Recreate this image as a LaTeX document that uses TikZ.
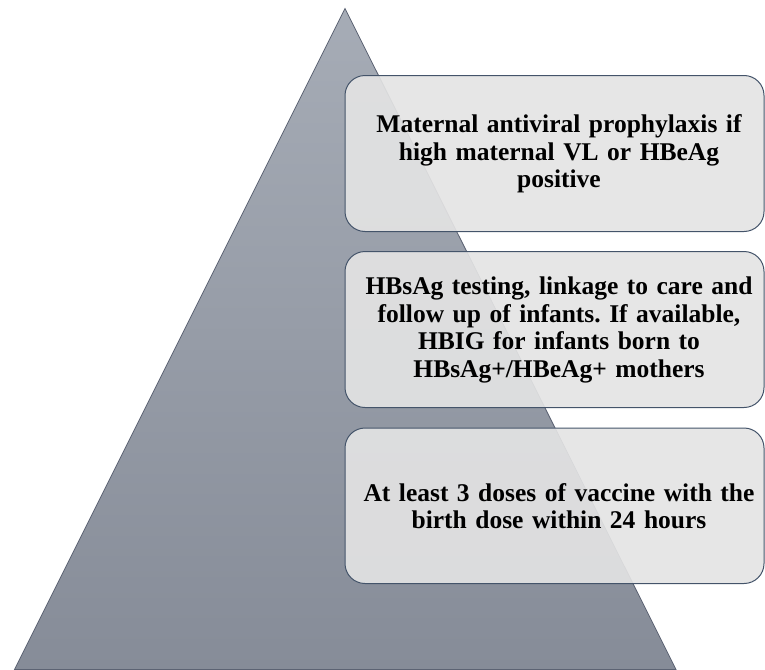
\documentclass[tikz,border=0pt]{standalone}
\usepackage{fontspec}
\setmainfont{Liberation Serif}
\frenchspacing
\begin{document}
\begin{tikzpicture}[x=1pt,y=-1pt,
  tri/.style={draw=triEdge, line width=0.8pt, top color=triTop, bottom color=triBot},
  tier/.style={draw=boxEdge, line width=1pt, fill=boxFill, fill opacity=0.91, rounded corners=20pt},
  tiertext/.style={align=center, font=\fontsize{25.5}{27.5}\selectfont\bfseries, text width=410pt, inner sep=0pt}]
\definecolor{triTop}{HTML}{A6ACB6}
\definecolor{triBot}{HTML}{868C98}
\definecolor{triEdge}{HTML}{5C6373}
\definecolor{boxEdge}{HTML}{44546A}
\definecolor{boxFill}{HTML}{E4E4E4}
\useasboundingbox (0,0) rectangle (765,669);
\coordinate (apex) at (345,8.5);
\coordinate (bl) at (14.5,669.5);
\coordinate (br) at (676,669.5);
\path[tri] (apex) -- (br) -- (bl) -- cycle;
\path[tier] (345,75.5) rectangle (764,231.5);
\path[tier] (345,251.5) rectangle (764,407.5);
\path[tier] (345,428) rectangle (764,583.5);
\node[tiertext] (t1) at (559,154) {Maternal antiviral prophylaxis if\\high maternal VL or HBeAg\\positive};
\node[tiertext] (t2) at (559,330) {HBsAg testing, linkage to care and\\follow up of infants. If available,\\HBIG for infants born to\\HBsAg+/HBeAg+ mothers};
\node[tiertext] (t3) at (559,506) {At least 3 doses of vaccine with the\\birth dose within 24 hours};
\end{tikzpicture}
\end{document}
